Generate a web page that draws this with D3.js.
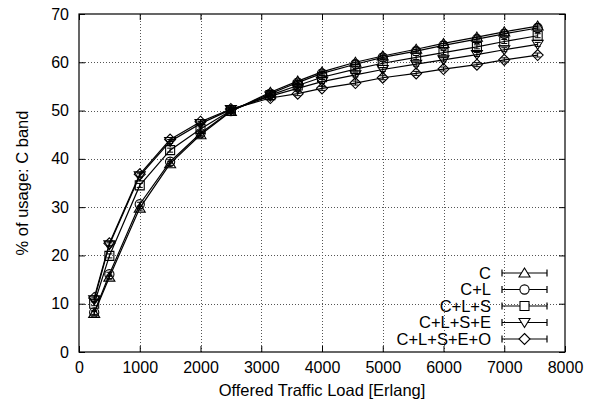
<!DOCTYPE html>
<html>
<head>
<meta charset="utf-8">
<script src="https://cdn.jsdelivr.net/npm/d3@7"></script>
<style>
  body { margin: 0; background: #fff; }
  svg { display: block; }
  text { font-family: "Liberation Sans", Arial, sans-serif; fill: #000; }
</style>
</head>
<body>
<div id="chart"></div>
<script>

// offered load values (x)
const loads = [250, 500, 1000, 1500, 2000, 2500, 3150, 3600, 4000, 4550, 5000, 5550, 6000, 6550, 7000, 7550];

const seriesNames = ["C", "C+L", "C+L+S", "C+L+S+E", "C+L+S+E+O"];

const usageC      = [8.0, 15.5, 29.8, 39.0, 45.0, 49.8, 53.8, 56.1, 58.0, 60.0, 61.3, 62.7, 63.9, 65.2, 66.3, 67.5];
const usageCL     = [8.2, 16.1, 30.6, 39.4, 45.3, 49.9, 53.5, 55.8, 57.7, 59.6, 61.0, 62.3, 63.5, 64.8, 65.9, 67.1];
const usageCLS    = [10.0, 19.9, 34.5, 41.8, 46.2, 50.0, 53.2, 55.2, 56.9, 58.6, 59.8, 61.0, 62.0, 63.2, 64.3, 65.5];
const usageCLSE   = [10.8, 22.2, 36.5, 43.6, 47.3, 50.2, 53.0, 54.6, 56.0, 57.4, 58.5, 59.6, 60.5, 61.6, 62.6, 63.7];
const usageCLSEO  = [11.2, 22.5, 36.8, 44.0, 47.7, 50.3, 52.6, 53.5, 54.6, 55.7, 56.8, 57.7, 58.6, 59.5, 60.5, 61.5];

const xTicks = [0, 1000, 2000, 3000, 4000, 5000, 6000, 7000, 8000];
const yTicks = [0, 10, 20, 30, 40, 50, 60, 70];

const series = [usageC, usageCL, usageCLS, usageCLSE, usageCLSEO];
const markers = ["triUp", "circle", "square", "triDown", "diamond"];

const width = 595, height = 402;
const margin = { top: 14, right: 30, bottom: 50, left: 79 };

const svg = d3.select("#chart").append("svg")
    .attr("width", width)
    .attr("height", height);

const x = d3.scaleLinear().domain([0, 8000]).range([margin.left, width - margin.right]);
const y = d3.scaleLinear().domain([0, 70]).range([height - margin.bottom, margin.top]);

// grid
const grid = svg.append("g")
    .attr("stroke", "#555")
    .attr("stroke-width", 1)
    .attr("stroke-dasharray", "1,2");

grid.selectAll(".gx")
    .data(xTicks.slice(1, -1))
    .join("line")
    .attr("x1", d => Math.round(x(d)) + 0.5)
    .attr("x2", d => Math.round(x(d)) + 0.5)
    .attr("y1", y(0))
    .attr("y2", y(70));

grid.selectAll(".gy")
    .data(yTicks.slice(1, -1))
    .join("line")
    .attr("y1", d => Math.round(y(d)) + 0.5)
    .attr("y2", d => Math.round(y(d)) + 0.5)
    .attr("x1", x(0))
    .attr("x2", x(8000));

// axes with inward ticks, mirrored
const fmt = d3.format("d");
const xAxis = svg.append("g")
    .attr("transform", `translate(0,${y(0)})`)
    .call(d3.axisBottom(x).tickValues(xTicks).tickFormat(fmt).tickSize(-6).tickPadding(10).tickSizeOuter(0));
const xAxisTop = svg.append("g")
    .attr("transform", `translate(0,${y(70)})`)
    .call(d3.axisTop(x).tickValues(xTicks).tickSize(-6).tickFormat("").tickSizeOuter(0));
const yAxis = svg.append("g")
    .attr("transform", `translate(${x(0)},0)`)
    .call(d3.axisLeft(y).tickValues(yTicks).tickFormat(fmt).tickSize(-6).tickPadding(10).tickSizeOuter(0));
const yAxisRight = svg.append("g")
    .attr("transform", `translate(${x(8000)},0)`)
    .call(d3.axisRight(y).tickValues(yTicks).tickSize(-6).tickFormat("").tickSizeOuter(0));

[xAxis, xAxisTop, yAxis, yAxisRight].forEach(a => {
    a.select(".domain").remove();
    a.selectAll("line").attr("stroke", "#000");
    a.selectAll("text").style("font-size", "16px").style("font-family", "Liberation Sans, Arial, sans-serif");
});

// frame
svg.append("rect")
    .attr("x", x(0))
    .attr("y", y(70))
    .attr("width", x(8000) - x(0))
    .attr("height", y(0) - y(70))
    .attr("fill", "none")
    .attr("stroke", "#000")
    .attr("stroke-width", 1.2);

// labels
svg.append("text")
    .attr("x", (x(0) + x(8000)) / 2)
    .attr("y", 396)
    .attr("text-anchor", "middle")
    .style("font-size", "16.5px")
    .text("Offered Traffic Load [Erlang]");

svg.append("text")
    .attr("transform", `translate(28,${(y(0) + y(70)) / 2}) rotate(-90)`)
    .attr("text-anchor", "middle")
    .style("font-size", "16.5px")
    .text("% of usage: C band");

function markerPath(type) {
    switch (type) {
        case "triUp": return "M0,-5L5.5,4L-5.5,4Z";
        case "triDown": return "M0,5L5.5,-4L-5.5,-4Z";
        case "square": return "M-4.5,-4.5H4.5V4.5H-4.5Z";
        case "diamond": return "M0,-5.5L5.5,0L0,5.5L-5.5,0Z";
        case "circle": return d3.arc()({ innerRadius: 0, outerRadius: 4.6, startAngle: 0, endAngle: 2 * Math.PI });
    }
}

const line = d3.line()
    .x((d, i) => x(loads[i]))
    .y(d => y(d));

const plot = svg.append("g");

series.forEach((vals, s) => {
    plot.append("path")
        .datum(vals)
        .attr("fill", "none")
        .attr("stroke", "#000")
        .attr("stroke-width", 1.2)
        .attr("d", line);

    plot.selectAll(".m" + s)
        .data(vals)
        .join("path")
        .attr("transform", (d, i) => `translate(${x(loads[i])},${y(d)})`)
        .attr("d", markerPath(markers[s]))
        .attr("fill", "none")
        .attr("stroke", "#000")
        .attr("stroke-width", 1.1);

    // small error bars
    plot.selectAll(".e" + s)
        .data(vals)
        .join("path")
        .attr("d", (d, i) => {
            const cx = x(loads[i]);
            return `M${cx - 3},${y(d) - 2}H${cx + 3}M${cx},${y(d) - 2}V${y(d) + 2}M${cx - 3},${y(d) + 2}H${cx + 3}`;
        })
        .attr("stroke", "#000")
        .attr("stroke-width", 1);
});

// legend
const legend = svg.append("g");
const legY = d3.scalePoint().domain(seriesNames).range([273, 339]);

seriesNames.forEach((name, s) => {
    const ly = legY(name);
    legend.append("text")
        .attr("x", 491)
        .attr("y", ly)
        .attr("dy", "0.36em")
        .attr("text-anchor", "end")
        .style("font-size", "16.5px")
        .text(name);
    legend.append("path")
        .attr("d", `M502,${ly}H547M502,${ly - 3.5}V${ly + 3.5}M547,${ly - 3.5}V${ly + 3.5}`)
        .attr("stroke", "#000")
        .attr("stroke-width", 1.2)
        .attr("fill", "none");
    legend.append("path")
        .attr("transform", `translate(524.5,${ly})`)
        .attr("d", markerPath(markers[s]))
        .attr("fill", "#fff")
        .attr("stroke", "#000")
        .attr("stroke-width", 1.1);
});

</script>
</body>
</html>
